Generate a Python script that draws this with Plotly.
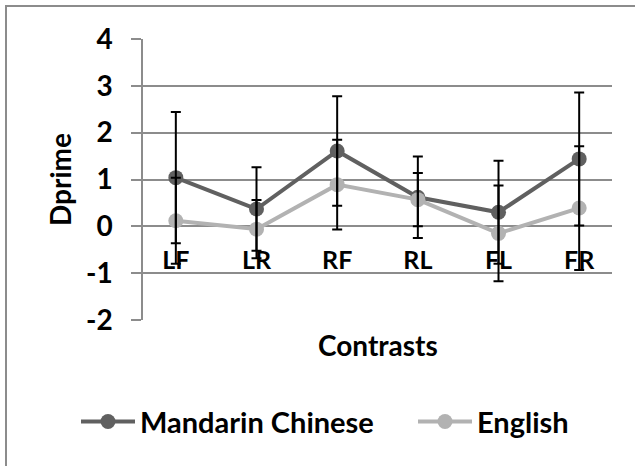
import plotly.graph_objects as go

categories = ["LF", "LR", "RF", "RL", "FL", "FR"]
mandarin = [1.04, 0.37, 1.61, 0.62, 0.30, 1.44]
mandarin_err = [1.40, 0.89, 1.17, 0.87, 1.10, 1.42]
english = [0.12, -0.06, 0.89, 0.57, -0.15, 0.39]
english_err = [0.92, 0.62, 0.96, 0.57, 1.02, 1.32]
y_ticks = [-2, -1, 0, 1, 2, 3, 4]
y_tick_labels = ["-2", "-1", "0", "1", "2", "3", "4"]

FONT = "Lato"
L, R, T, B = 143, 23, 39, 146
W, H = 635, 466
pw, ph = W - L - R, H - T - B

fig = go.Figure()
fig.add_trace(go.Scatter(
    x=categories, y=mandarin, name="Mandarin Chinese", mode="lines+markers",
    line=dict(color="#606060", width=4), marker=dict(size=15, color="#606060"),
    legend="legend",
))
fig.add_trace(go.Scatter(
    x=categories, y=english, name="English", mode="lines+markers",
    line=dict(color="#b2b2b2", width=4), marker=dict(size=15, color="#b2b2b2"),
    legend="legend2",
))
# error bars drawn on top of both series, as in the original
for vals, errs in ((mandarin, mandarin_err), (english, english_err)):
    fig.add_trace(go.Scatter(
        x=categories, y=vals, mode="markers", marker=dict(size=1, opacity=0),
        error_y=dict(type="data", array=errs, visible=True, color="black", thickness=2, width=5),
        showlegend=False, hoverinfo="skip",
    ))

leg_common = dict(orientation="h", y=(H - B - 421.7) / ph, xanchor="left", yanchor="middle",
                  font=dict(family=FONT, size=29, color="black", weight="bold"), itemwidth=54,
                  bgcolor="rgba(0,0,0,0)")

fig.update_layout(
    width=W, height=H,
    margin=dict(l=L, r=R, t=T, b=B, autoexpand=False),
    paper_bgcolor="white", plot_bgcolor="white",
    font=dict(family=FONT, size=24, color="black"),
    showlegend=True,
    legend=dict(x=(76 - L) / pw, **leg_common),
    legend2=dict(x=(413 - L) / pw, **leg_common),
    xaxis=dict(type="category", anchor="free", position=1/3, showgrid=False, zeroline=False, showline=False,
               ticks="", ticklabelstandoff=17, tickfont=dict(family=FONT, size=25, weight="bold")),
    yaxis=dict(range=[-2, 4], tickvals=y_ticks, ticktext=y_tick_labels, showgrid=True, gridcolor="#8c8c8c", gridwidth=1.5,
               zeroline=False, showline=True, linecolor="#8c8c8c", linewidth=1.5,
               ticks="outside", ticklen=10, tickcolor="#8c8c8c", tickwidth=1.5,
               ticklabelstandoff=13, tickfont=dict(family=FONT, size=28, weight="bold"),
               title=dict(text="Dprime", font=dict(family=FONT, size=28, weight="bold"), standoff=6)),
    annotations=[dict(text="Contrasts", xref="paper", yref="paper", x=0.5, y=(H - B - 345) / ph,
                      showarrow=False, xanchor="center", yanchor="middle",
                      font=dict(family=FONT, size=28, weight="bold", color="black"))],
    shapes=[dict(type="rect", xref="paper", yref="paper",
                 x0=(6 - L) / pw, y0=-1.0, x1=1.5, y1=1 + (T - 6) / ph,
                 line=dict(color="#8c8c8c", width=2), layer="below")],
)

fig.write_html("out.html", config={"displayModeBar": False},
               post_script="document.body.style.margin='0';")
